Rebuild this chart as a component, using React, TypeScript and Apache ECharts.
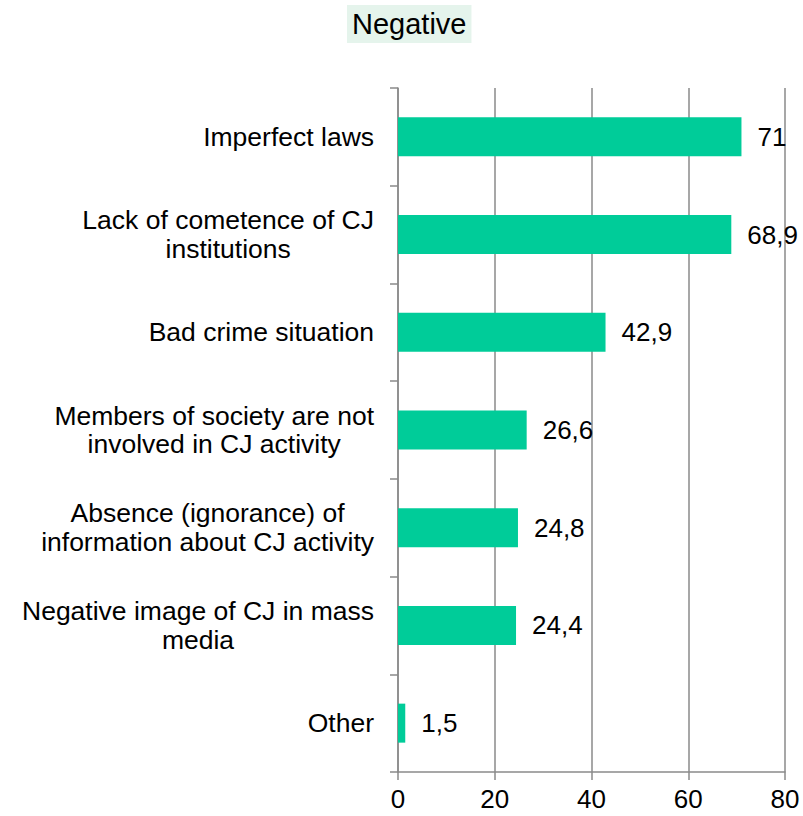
import React, { useEffect, useRef } from "react";
import * as echarts from "echarts";

const titleText = "Negative";
const categories = [
  "Imperfect laws",
  "Lack of cometence of CJ\ninstitutions",
  "Bad crime situation",
  "Members of society are not\ninvolved in CJ activity",
  "Absence (ignorance) of\ninformation about CJ activity",
  "Negative image of CJ in mass\nmedia",
  "Other",
];
const values = [71, 68.9, 42.9, 26.6, 24.8, 24.4, 1.5];
const xTicks = { min: 0, max: 80, interval: 20 };

const FONT = "'Liberation Sans', Arial, Helvetica, sans-serif";

export default function App() {
  const ref = useRef<HTMLDivElement>(null);
  useEffect(() => {
    document.body.style.margin = "0";
    const chart = echarts.init(ref.current!, null, { renderer: "svg" });
    chart.setOption({
      animation: false,
      textStyle: { fontFamily: FONT },
      title: {
        text: titleText,
        left: 347,
        top: 5,
        padding: [4, 5],
        backgroundColor: "#E5F4EC",
        textStyle: {
          fontSize: 29,
          lineHeight: 30,
          fontWeight: "normal",
          color: "#000",
          fontFamily: FONT,
        },
      },
      grid: {
        left: 398,
        right: 18,
        top: 88,
        bottom: 44,
        containLabel: false,
        outerBoundsMode: "none",
      },
      xAxis: {
        type: "value",
        min: xTicks.min,
        max: xTicks.max,
        interval: xTicks.interval,
        axisLine: { show: true, lineStyle: { color: "#8a8a8a", width: 1.5 } },
        axisTick: { show: true, length: 8, lineStyle: { color: "#8a8a8a", width: 1.5 } },
        splitLine: { show: true, lineStyle: { color: "#8a8a8a", width: 1.5 } },
        axisLabel: { fontSize: 26, color: "#000", margin: 14, fontFamily: FONT },
      },
      yAxis: {
        type: "category",
        inverse: true,
        data: categories,
        axisLine: { show: true, lineStyle: { color: "#8a8a8a", width: 1.5 } },
        axisTick: { show: true, length: 8, alignWithLabel: false, lineStyle: { color: "#8a8a8a", width: 1.5 } },
        splitLine: { show: false },
        axisLabel: {
          fontSize: 26.5,
          color: "#000",
          margin: 24,
          align: "right",
          fontFamily: FONT,
          formatter: (v: string) =>
            v
              .split("\n")
              .map((l) => "{c|" + l + "}")
              .join("\n"),
          rich: {
            c: {
              align: "center",
              fontSize: 26.5,
              lineHeight: 28.5,
              color: "#000",
              fontFamily: FONT,
            },
          },
        },
      },
      series: [
        {
          type: "bar",
          data: values,
          barWidth: 39,
          itemStyle: { color: "#00CC99" },
          label: {
            show: true,
            position: "right",
            distance: 16,
            fontSize: 26,
            color: "#000",
            fontFamily: FONT,
            formatter: (p: any) => String(p.value).replace(".", ","),
          },
        },
      ],
    });
    return () => chart.dispose();
  }, []);
  return (
    <div
      ref={ref}
      style={{ position: "absolute", left: 0, top: 0, width: 803, height: 816 }}
    />
  );
}
